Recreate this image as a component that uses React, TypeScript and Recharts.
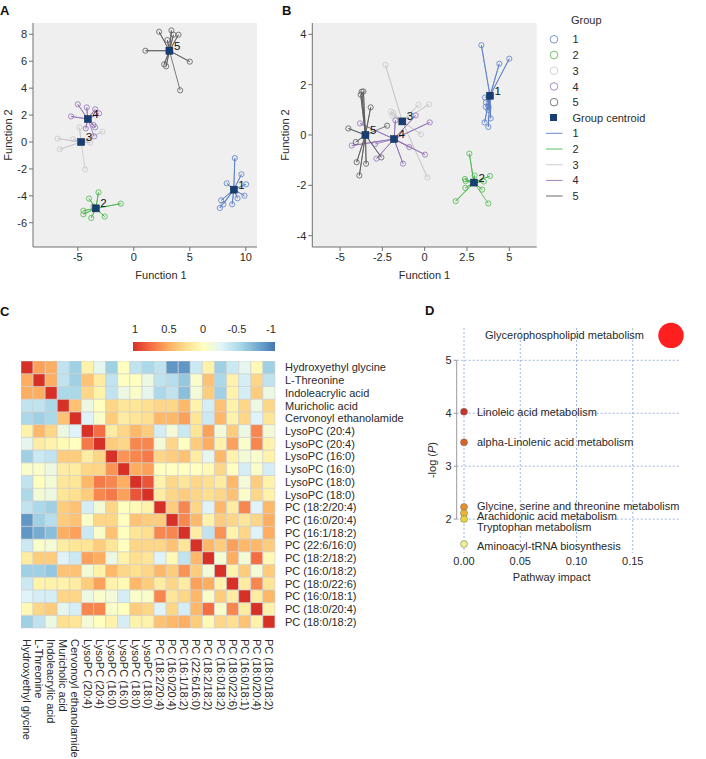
import React from "react";
import {
  ScatterChart,
  Scatter,
  BarChart,
  Bar,
  Cell,
  XAxis,
  YAxis,
  CartesianGrid,
  ReferenceLine,
  Label,
} from "recharts";

const FONT = "'Liberation Sans', Arial, sans-serif";
const TXT = "#2a2a2a";

// ---------- A / B: discriminant function scores ----------
const groupLabels = ["1", "2", "3", "4", "5"];
const groupColors = ["#5a7ec9", "#4cb54c", "#c8c8c8", "#9270b6", "#5a5a5a"];
const centroidColor = "#183f73";

const aCentroids = [
  [8.93, -3.54],
  [-3.39, -4.93],
  [-4.7, 0.0],
  [-4.11, 1.71],
  [3.18, 6.78],
];
const aGroup1 = [[9.02, -1.19], [9.61, -2.4], [10.03, -3.14], [8.3, -3.07], [9.88, -3.99], [9.26, -4.18], [8.78, -4.63], [7.8, -4.33], [7.68, -4.9], [8.0, -4.63]];
const aGroup2 = [[-3.15, -3.74], [-4.0, -4.2], [-1.16, -4.58], [-4.5, -5.1], [-4.5, -5.37], [-3.8, -5.64], [-2.6, -5.54], [-3.6, -4.8]];
const aGroup3 = [[-6.8, 0.25], [-6.6, -0.54], [-5.4, 0.2], [-4.85, 1.09], [-3.9, -0.05], [-3.96, 0.15], [-2.8, 0.77], [-4.35, -2.03]];
const aGroup4 = [[-5.0, 2.8], [-4.2, 2.57], [-5.6, 1.9], [-3.45, 2.43], [-3.1, 2.13], [-3.6, 1.26], [-3.45, 1.09], [-4.29, 1.01], [-3.54, 0.42]];
const aGroup5 = [[2.26, 8.19], [3.36, 8.29], [3.99, 7.97], [3.54, 7.97], [3.0, 7.57], [1.04, 6.78], [5.0, 5.97], [2.71, 5.77], [2.89, 5.62], [4.14, 3.84]];

const bCentroids = [
  [3.86, 1.56],
  [2.91, -1.89],
  [-1.32, 0.54],
  [-1.81, -0.16],
  [-3.5, 0.0],
];
const bGroup1 = [[3.35, 3.57], [4.41, 2.83], [5.0, 3.03], [3.56, 1.49], [3.6, 1.12], [3.76, 1.0], [3.9, 0.66], [3.54, 0.5], [3.76, 0.32], [3.78, 1.11], [3.62, 1.3]];
const bGroup2 = [[2.64, -0.74], [2.38, -1.75], [2.42, -1.83], [2.95, -1.61], [3.5, -1.85], [3.86, -1.63], [3.4, -2.17], [2.4, -2.1], [1.83, -2.63], [3.76, -2.72]];
const bGroup3 = [[-2.32, 2.78], [-1.99, 0.93], [-1.85, 0.87], [-0.37, 1.2], [0.26, 1.22], [-0.22, 0.03], [0.16, -1.69], [-1.9, 0.77]];
const bGroup4 = [[-0.53, 0.78], [0.3, 0.5], [-1.73, 0.58], [-0.91, -0.48], [0.02, -0.78], [-1.28, -1.14], [-2.85, -0.94], [-3.82, 0.46], [-4.31, -0.42], [-2.93, -0.36]];
const bGroup5 = [[-3.72, 1.72], [-3.62, 1.73], [-3.78, 1.6], [-3.19, 1.1], [-4.51, 0.26], [-4.07, -0.28], [-4.02, -1.08], [-3.86, -1.61], [-3.46, -1.14], [-2.56, -0.89], [-2.22, 0.37]];

const aTicksX = [-5, 0, 5, 10];
const aTicksY = [-6, -4, -2, 0, 2, 4, 6, 8];
const bTicksX = [-5, -2.5, 0, 2.5, 5];
const bTicksY = [-4, -2, 0, 2, 4];

// ---------- C: correlation heatmap ----------
const metabolites = [
  "Hydroxyethyl glycine",
  "L-Threonine",
  "Indoleacrylic acid",
  "Muricholic acid",
  "Cervonoyl ethanolamide",
  "LysoPC (20:4)",
  "LysoPC (20:4)",
  "LysoPC (16:0)",
  "LysoPC (16:0)",
  "LysoPC (18:0)",
  "LysoPC (18:0)",
  "PC (18:2/20:4)",
  "PC (16:0/20:4)",
  "PC (16:1/18:2)",
  "PC (22:6/16:0)",
  "PC (18:2/18:2)",
  "PC (16:0/18:2)",
  "PC (18:0/22:6)",
  "PC (16:0/18:1)",
  "PC (18:0/20:4)",
  "PC (18:0/18:2)",
];

const corr = [
  [1, 0.55, 0.5, -0.4, -0.55, 0.1, -0.2, -0.55, 0, -0.4, -0.5, -0.4, -0.85, -0.85, -0.35, 0.1, -0.55, -0.35, -0.2, 0.05, -0.55],
  [0.5, 1, 0.5, -0.4, -0.55, 0.4, 0.15, -0.4, 0, 0, -0.15, -0.4, -0.45, -0.6, -0.05, 0.4, -0.5, 0.1, -0.3, 0.3, -0.4],
  [0.5, 0.5, 1, -0.5, -0.5, 0.3, 0.1, -0.4, -0.15, -0.05, -0.2, -0.5, -0.4, -0.65, -0.1, 0.35, -0.55, 0.1, -0.3, 0.35, -0.15],
  [-0.4, -0.4, -0.5, 1, 0.4, -0.15, 0, 0.3, 0.2, 0.2, 0.25, 0.3, 0.3, 0.45, 0.1, -0.3, 0.4, 0.1, 0.3, -0.15, 0.3],
  [-0.5, -0.55, -0.5, 0.4, 1, -0.25, -0.05, 0.35, 0.15, 0.2, 0.25, 0.45, 0.45, 0.55, 0.2, -0.35, 0.45, 0.1, 0.3, -0.25, 0.2],
  [0.1, 0.45, 0.3, -0.15, -0.25, 1, 0.75, 0.15, 0.3, 0.45, 0.35, -0.3, -0.1, -0.35, 0.2, 0.55, -0.1, 0.35, -0.15, 0.65, -0.1],
  [-0.2, 0.15, 0.1, 0.05, 0, 0.7, 1, 0.35, 0.3, 0.65, 0.65, -0.1, 0.3, 0, 0.35, 0.5, 0.1, 0.55, -0.05, 0.65, 0.1],
  [-0.55, -0.35, -0.4, 0.35, 0.35, 0.15, 0.3, 1, 0.6, 0.65, 0.7, 0.3, 0.35, 0.4, 0.15, -0.2, 0.45, 0.1, -0.1, -0.05, 0.1],
  [-0.05, -0.05, -0.15, 0.15, 0.15, 0.3, 0.3, 0.6, 1, 0.5, 0.55, 0, 0, 0, 0, 0.05, 0.3, 0, -0.3, -0.05, -0.3],
  [-0.4, 0, -0.1, 0.2, 0.2, 0.45, 0.7, 0.65, 0.5, 1, 0.85, 0.1, 0.3, 0.2, 0.3, 0.25, 0.15, 0.45, -0.1, 0.35, 0.1],
  [-0.5, -0.1, -0.15, 0.2, 0.25, 0.35, 0.65, 0.7, 0.55, 0.85, 1, 0.15, 0.3, 0.35, 0.3, 0.25, 0.3, 0.4, -0.05, 0.3, 0.1],
  [-0.4, -0.5, -0.55, 0.35, 0.4, -0.3, -0.1, 0.3, 0, 0.05, 0.1, 1, 0.35, 0.65, 0.3, -0.25, 0.45, 0.15, 0.65, -0.25, 0.45],
  [-0.85, -0.55, -0.45, 0.35, 0.4, -0.05, 0.3, 0.3, 0, 0.4, 0.35, 0.35, 1, 0.65, 0.45, 0.1, 0.35, 0.3, 0.2, 0.3, 0.5],
  [-0.85, -0.75, -0.65, 0.5, 0.55, -0.35, -0.05, 0.4, 0, 0.2, 0.25, 0.65, 0.65, 1, 0.15, -0.4, 0.6, 0.1, 0.3, -0.25, 0.5],
  [-0.35, -0.05, -0.1, 0.15, 0.2, 0.2, 0.35, 0.2, 0, 0.3, 0.3, 0.3, 0.4, 0.2, 1, 0.45, 0.35, 0.55, 0.45, 0.45, 0.35],
  [0.15, 0.35, 0.35, -0.25, -0.35, 0.55, 0.5, -0.15, 0.1, 0.25, 0.2, -0.25, 0.05, -0.4, 0.45, 1, -0.1, 0.5, -0.1, 0.75, 0.05],
  [-0.55, -0.55, -0.6, 0.4, 0.4, -0.1, 0.1, 0.45, 0.3, 0.25, 0.3, 0.45, 0.35, 0.6, 0.35, -0.1, 1, 0.1, 0.35, -0.1, 0.35],
  [-0.35, 0.1, 0.1, 0.1, 0.15, 0.35, 0.55, 0.1, 0.05, 0.45, 0.35, 0.15, 0.3, 0.15, 0.55, 0.5, 0.1, 1, 0.15, 0.65, 0.2],
  [-0.25, -0.3, -0.3, 0.3, 0.3, -0.15, -0.05, -0.1, -0.3, -0.05, -0.05, 0.65, 0.2, 0.3, 0.45, -0.05, 0.35, 0.15, 1, 0.15, 0.45],
  [0.05, 0.3, 0.35, -0.2, -0.3, 0.65, 0.65, -0.05, 0, 0.35, 0.3, -0.25, 0.3, -0.3, 0.45, 0.75, -0.05, 0.65, 0.15, 1, 0.1],
  [-0.55, -0.4, -0.15, 0.25, 0.2, -0.1, 0, 0.1, -0.3, 0.1, 0.1, 0.4, 0.45, 0.5, 0.35, 0.05, 0.3, 0.25, 0.4, 0.1, 1],
];

const colorbarTicks = [1, 0.5, 0, -0.5, -1];

// RdYlBu, 1 = red, -1 = blue
const corrStops: [number, number[]][] = [
  [1, [215, 48, 39]],
  [0.75, [244, 109, 67]],
  [0.5, [253, 174, 97]],
  [0.25, [254, 224, 144]],
  [0, [255, 255, 191]],
  [-0.25, [224, 243, 248]],
  [-0.5, [171, 217, 233]],
  [-0.75, [116, 173, 209]],
  [-1, [69, 117, 180]],
];

function corrColor(v: number) {
  for (let i = 0; i < corrStops.length - 1; i++) {
    const [v0, c0] = corrStops[i];
    const [v1, c1] = corrStops[i + 1];
    if (v <= v0 && v >= v1) {
      const t = (v0 - v) / (v0 - v1);
      return `rgb(${c0.map((a, k) => Math.round(a + (c1[k] - a) * t)).join(",")})`;
    }
  }
  return v > 0 ? "rgb(215,48,39)" : "rgb(69,117,180)";
}

// ---------- D: pathway analysis ----------
const pathways = [
  "Glycerophospholipid metabolism",
  "Linoleic acid metabolism",
  "alpha-Linolenic acid metabolism",
  "Glycine, serine and threonine metabolism",
  "Arachidonic acid metabolism",
  "Tryptophan metabolism",
  "Aminoacyl-tRNA biosynthesis",
];
const pathImpact = [0.184, 0, 0, 0, 0, 0, 0];
const pathLogP = [5.47, 4.03, 3.45, 2.23, 2.11, 2.0, 1.53];
const pathColors = ["#ff1f1f", "#c8352b", "#d8622a", "#e8902c", "#eeb52f", "#ecd43c", "#f0ee8e"];
const dTicksX = [0, 0.05, 0.1, 0.15];
const dTicksY = [2, 3, 4, 5];

// label placement tweaks (text repel in the original)
const labelNudge = [
  { dx: -27, dy: 0, anchor: "end" },
  { dx: 13, dy: 0, anchor: "start" },
  { dx: 13, dy: 0, anchor: "start" },
  { dx: 13, dy: -1, anchor: "start" },
  { dx: 13, dy: 3, anchor: "start" },
  { dx: 13, dy: 7.5, anchor: "start" },
  { dx: 13, dy: 1.5, anchor: "start" },
];

const spokes = (c: number[], pts: number[][]) =>
  pts.flatMap((p) => [
    { x: c[0], y: c[1] },
    { x: p[0], y: p[1] },
  ]);
const toXY = (pts: number[][]) => pts.map((p) => ({ x: p[0], y: p[1] }));

const CentroidShape = (p: any) => (
  <g>
    <rect x={p.cx - 3.5} y={p.cy - 3.5} width={7} height={7} fill={centroidColor} stroke="#0d2850" strokeWidth={0.5} />
    <text x={p.cx + 4.5} y={p.cy - 1} fontSize={11.5} fill="#111" fontFamily={FONT}>
      {p.payload.label}
    </text>
  </g>
);

function DiscPanel({ left, width, margin, xDomain, xTicks, yDomain, yTicks, centroids, groups, xLabelDx, yLabelOffset }: any) {
  const tick = { fontSize: 11, fill: TXT, fontFamily: FONT };
  const labelStyle = { fontSize: 11, fill: TXT, fontFamily: FONT };
  return (
    <div style={{ position: "absolute", left, top: 0 }}>
      <ScatterChart width={width} height={290} margin={margin}>
        <CartesianGrid horizontal={false} vertical={false} fill="#efefef" />
        <XAxis type="number" dataKey="x" domain={xDomain} ticks={xTicks} allowDataOverflow height={30} tickSize={4} stroke="#707070" tick={tick}>
          <Label value="Function 1" position="insideBottom" offset={-2} dx={xLabelDx} style={labelStyle} />
        </XAxis>
        <YAxis type="number" dataKey="y" domain={yDomain} ticks={yTicks} allowDataOverflow width={25} tickSize={4} stroke="#707070" tick={tick}>
          <Label value="Function 2" angle={-90} position="insideLeft" offset={yLabelOffset} style={{ ...labelStyle, textAnchor: "middle" }} />
        </YAxis>
        {groups.map((g: number[][], i: number) => (
          <Scatter
            key={`s${i}`}
            data={spokes(centroids[i], g)}
            line={{ stroke: groupColors[i], strokeWidth: 0.8 }}
            shape={() => <g />}
            isAnimationActive={false}
          />
        ))}
        {groups.map((g: number[][], i: number) => (
          <Scatter
            key={`p${i}`}
            data={toXY(g)}
            shape={(p: any) => <circle cx={p.cx} cy={p.cy} r={2.6} fill="none" stroke={groupColors[i]} strokeWidth={0.8} />}
            isAnimationActive={false}
          />
        ))}
        <Scatter
          data={centroids.map((c: number[], i: number) => ({ x: c[0], y: c[1], label: groupLabels[i] }))}
          shape={CentroidShape}
          isAnimationActive={false}
        />
      </ScatterChart>
    </div>
  );
}

const ColTick = (props: any) => {
  const { x, y, payload } = props;
  return (
    <text x={x} y={y} transform={`rotate(90, ${x}, ${y})`} textAnchor="start" dominantBaseline="central" fontSize={11} fontFamily={FONT} fill={TXT}>
      {metabolites[payload.value]}
    </text>
  );
};

const RowTick = (props: any) => {
  const { x, y, payload } = props;
  return (
    <text x={x} y={y} textAnchor="start" dominantBaseline="central" fontSize={11} fontFamily={FONT} fill={TXT}>
      {metabolites[Math.round(metabolites.length - 0.5 - payload.value)]}
    </text>
  );
};

function Heatmap() {
  const data = metabolites.map((_, c) => {
    const o: any = { c };
    metabolites.forEach((__, r) => (o[`r${r}`] = 1));
    return o;
  });
  const rowOrder = metabolites.map((_, r) => r).reverse();
  return (
    <div style={{ position: "absolute", left: 21, top: 361 }}>
      <BarChart width={384} height={398} data={data} margin={{ top: 0, right: 0, bottom: 0, left: 0 }} barCategoryGap={0} barGap={0}>
        <XAxis type="category" dataKey="c" interval={0} height={131} axisLine={false} tickLine={false} tickSize={6} tickMargin={5} tick={<ColTick />} />
        <YAxis
          type="number"
          orientation="right"
          domain={[0, metabolites.length]}
          ticks={metabolites.map((_, r) => metabolites.length - 0.5 - r)}
          interval={0}
          width={130}
          axisLine={false}
          tickLine={false}
          tickSize={6}
          tickMargin={4}
          tick={<RowTick />}
        />
        {rowOrder.map((r) => (
          <Bar key={r} dataKey={`r${r}`} stackId="m" isAnimationActive={false} stroke="#cfcfcf" strokeWidth={0.6}>
            {metabolites.map((__, c) => (
              <Cell key={c} fill={corrColor(corr[r][c])} />
            ))}
          </Bar>
        ))}
      </BarChart>
    </div>
  );
}

const PathShape = (p: any) => {
  const i = p.payload.i;
  const n = labelNudge[i];
  return (
    <g>
      <circle cx={p.cx} cy={p.cy} r={p.payload.r} fill={p.payload.color} stroke={i === 0 ? "none" : "#6b6b6b"} strokeWidth={0.5} />
      <text x={p.cx + n.dx} y={p.cy + n.dy} textAnchor={n.anchor} dominantBaseline="central" fontSize={11} fontFamily={FONT} fill={TXT}>
        {p.payload.name}
      </text>
    </g>
  );
};

function PathwayPanel() {
  const data = pathways.map((name, i) => ({
    i,
    name,
    x: pathImpact[i],
    y: pathLogP[i],
    color: pathColors[i],
    r: 3.5 + pathImpact[i] * 50,
  }));
  const xDomain = [-0.0065, 0.192];
  return (
    <div style={{ position: "absolute", left: 400, top: 300 }}>
      <ScatterChart width={306} height={300} margin={{ top: 28, right: 26, bottom: 17, left: 26.7 }}>
        <CartesianGrid
          stroke="#86a3d8"
          strokeDasharray="2 2"
          strokeWidth={0.8}
          horizontalValues={dTicksY}
          verticalValues={dTicksX}
        />
        <XAxis
          type="number"
          dataKey="x"
          domain={xDomain}
          ticks={dTicksX}
          tickFormatter={(v: number) => v.toFixed(2)}
          axisLine={false}
          tickLine={false}
          tickSize={3}
          tickMargin={1}
          height={30}
          tick={{ fontSize: 11, fill: TXT, fontFamily: FONT }}
        >
          <Label value="Pathway impact" position="insideBottom" offset={2} dx={-16.7} style={{ fontSize: 11, fill: TXT, fontFamily: FONT }} />
        </XAxis>
        <YAxis
          type="number"
          dataKey="y"
          domain={[1.36, 5.61]}
          ticks={dTicksY}
          axisLine={false}
          tickLine={{ stroke: "#999" }}
          tickSize={3}
          width={30}
          tick={{ fontSize: 11, fill: TXT, fontFamily: FONT }}
        >
          <Label
            content={(props: any) => {
              const vb = props.viewBox;
              const x = vb.x + 5;
              const y = vb.y + vb.height / 2 + 19.5;
              return (
                <text x={x} y={y} transform={`rotate(-90, ${x}, ${y})`} textAnchor="middle" dominantBaseline="central" fontSize={11} fontFamily={FONT} fill={TXT}>
                  -log (<tspan fontStyle="italic">P</tspan>)
                </text>
              );
            }}
          />
        </YAxis>
        <ReferenceLine
          segment={[
            { x: xDomain[0], y: 2 },
            { x: xDomain[0], y: 5 },
          ]}
          stroke="#9a9a9a"
        />
        <Scatter data={data} shape={PathShape} isAnimationActive={false} />
      </ScatterChart>
    </div>
  );
}

function Overlay() {
  const legendRows = [39.3, 55, 70.7, 86.5, 102.2];
  const lineRows = [133.3, 149, 164.7, 180.4, 196];
  const cbX = 133;
  const cbW = 142;
  return (
    <svg width={706} height={759} style={{ position: "absolute", left: 0, top: 0, pointerEvents: "none" }} fontFamily={FONT}>
      <defs>
        <linearGradient id="cb" x1="0" x2="1" y1="0" y2="0">
          {corrStops.map(([v, c]) => (
            <stop key={v} offset={(1 - v) / 2} stopColor={`rgb(${c.join(",")})`} />
          ))}
        </linearGradient>
      </defs>
      <g fontWeight="bold" fontSize={13} fill="#111">
        <text x={0} y={15}>A</text>
        <text x={282} y={15}>B</text>
        <text x={0} y={316}>C</text>
        <text x={425} y={315}>D</text>
      </g>
      {/* colour key for C */}
      <rect x={cbX} y={342} width={cbW} height={9} fill="url(#cb)" />
      {colorbarTicks.map((t) => (
        <text key={t} x={cbX + 2 + ((1 - t) / 2) * (cbW - 6)} y={329} textAnchor="middle" dominantBaseline="central" fontSize={11} fill={TXT}>
          {t}
        </text>
      ))}
      {/* legend for A/B */}
      <text x={571} y={20} dominantBaseline="central" fontSize={11} fill={TXT}>
        Group
      </text>
      {groupLabels.map((g, i) => (
        <g key={`lc${g}`}>
          <circle cx={554} cy={legendRows[i]} r={3.8} fill="none" stroke={groupColors[i]} strokeWidth={0.8} />
          <text x={572.5} y={legendRows[i]} dominantBaseline="central" fontSize={11} fill={TXT}>
            {g}
          </text>
        </g>
      ))}
      <rect x={550} y={114} width={7} height={7} fill={centroidColor} />
      <text x={572.5} y={117.5} dominantBaseline="central" fontSize={11} fill={TXT}>
        Group centroid
      </text>
      {groupLabels.map((g, i) => (
        <g key={`ll${g}`}>
          <line x1={546} x2={562.5} y1={lineRows[i]} y2={lineRows[i]} stroke={groupColors[i]} strokeWidth={0.9} />
          <text x={572.5} y={lineRows[i]} dominantBaseline="central" fontSize={11} fill={TXT}>
            {g}
          </text>
        </g>
      ))}
    </svg>
  );
}

export default function App() {
  return (
    <div style={{ position: "absolute", left: 0, top: 0, width: 706, height: 759, background: "#fff", overflow: "hidden", fontFamily: FONT }}>
      <DiscPanel
        left={0}
        width={270}
        margin={{ top: 23, right: 13, bottom: 13, left: 8 }}
        xDomain={[-9, 11]}
        xTicks={aTicksX}
        yDomain={[-7.8, 8.84]}
        yTicks={aTicksY}
        centroids={aCentroids}
        groups={[aGroup1, aGroup2, aGroup3, aGroup4, aGroup5]}
        xLabelDx={16}
        yLabelOffset={0.5}
      />
      <DiscPanel
        left={270}
        width={280}
        margin={{ top: 23, right: 13.3, bottom: 13, left: 17.3 }}
        xDomain={[-6.64, 6.62]}
        xTicks={bTicksX}
        yDomain={[-4.45, 4.45]}
        yTicks={bTicksY}
        centroids={bCentroids}
        groups={[bGroup1, bGroup2, bGroup3, bGroup4, bGroup5]}
        xLabelDx={0}
        yLabelOffset={-2}
      />
      <Heatmap />
      <PathwayPanel />
      <Overlay />
    </div>
  );
}
